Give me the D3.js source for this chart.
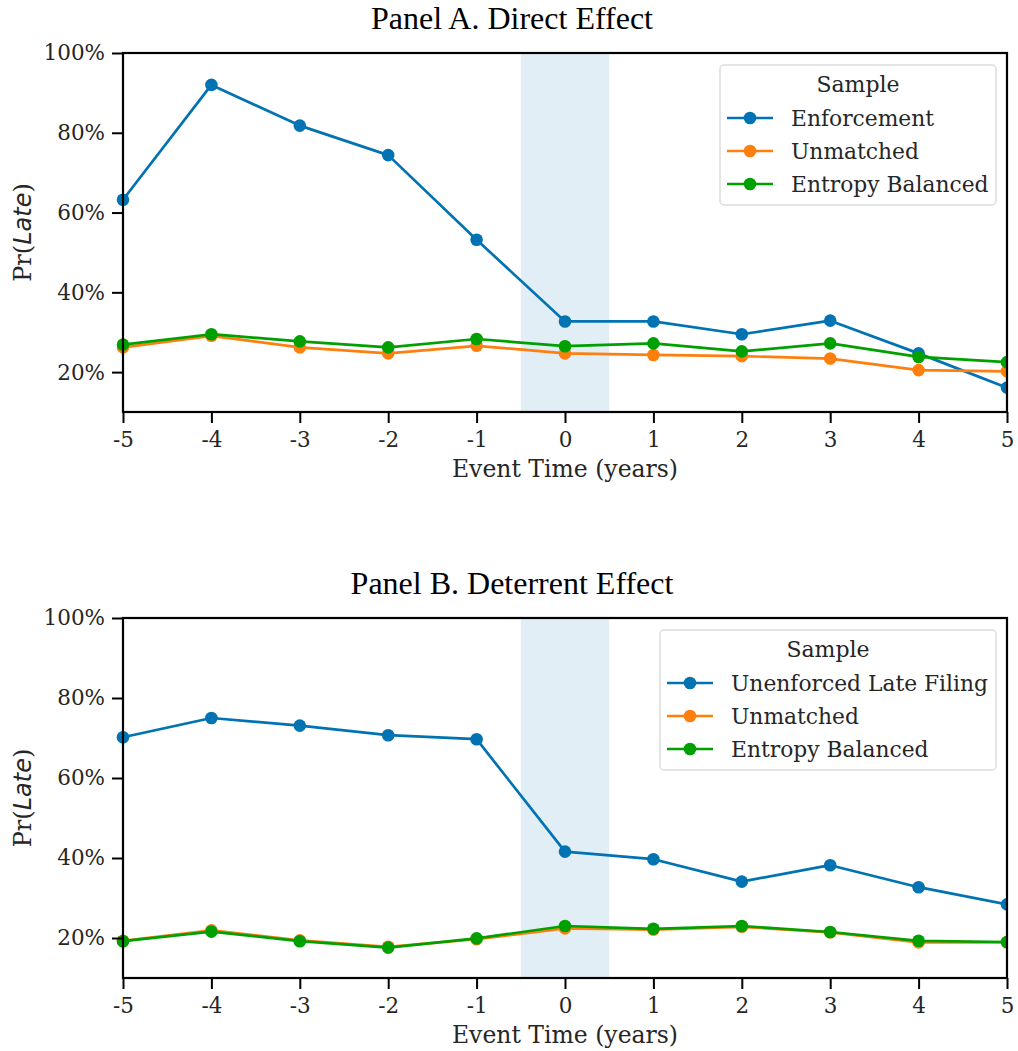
<!DOCTYPE html>
<html><head><meta charset="utf-8">
<script src="https://cdn.jsdelivr.net/npm/d3@7"></script>
<style>body{margin:0;background:#fff}</style>
</head><body>
<svg id="chart" width="1018" height="1051"></svg>
<script>
const eventTimes = [-5,-4,-3,-2,-1,0,1,2,3,4,5];
const yTicks = [0.2,0.4,0.6,0.8,1.0];

const panelATitle = "Panel A. Direct Effect";
const panelASeriesNames = ["Enforcement","Unmatched","Entropy Balanced"];
const panelAEnforcement = [0.632,0.920,0.818,0.744,0.532,0.327,0.327,0.295,0.329,0.247,0.161];
const panelAUnmatched   = [0.262,0.291,0.262,0.247,0.266,0.247,0.243,0.240,0.234,0.205,0.202];
const panelAEntropy     = [0.269,0.295,0.277,0.262,0.283,0.265,0.272,0.252,0.272,0.238,0.225];

const panelBTitle = "Panel B. Deterrent Effect";
const panelBSeriesNames = ["Unenforced Late Filing","Unmatched","Entropy Balanced"];
const panelBUnenforced = [0.702,0.750,0.731,0.707,0.697,0.416,0.397,0.341,0.382,0.327,0.284];
const panelBUnmatched  = [0.193,0.219,0.194,0.178,0.197,0.224,0.221,0.228,0.214,0.189,0.189];
const panelBEntropy    = [0.192,0.216,0.192,0.176,0.199,0.230,0.223,0.230,0.215,0.193,0.190];

const colors = ["#0173b2","#ff7f0e","#00a000"];
const svg = d3.select("#chart");
const textColor = "#262626";

function drawPanel(opt){
  const g = svg.append("g");
  const x = d3.scaleLinear().domain([-5,5]).range([opt.left, opt.right]);
  const y = d3.scaleLinear().domain([0.1,1.0]).range([opt.bottom, opt.top]);
  // title
  g.append("text").attr("x",(opt.left+opt.right)/2 - 53).attr("y",opt.titleY)
    .attr("text-anchor","middle").attr("font-family","'Liberation Serif','Times New Roman',serif")
    .attr("font-size",32).attr("fill","#000").text(opt.title);
  // shaded region
  g.append("rect").attr("x",x(-0.5)).attr("y",opt.top).attr("width",x(0.5)-x(-0.5))
    .attr("height",opt.bottom-opt.top).attr("fill","#e1eef6");
  // lines
  const line = d3.line().x((d,i)=>x(eventTimes[i])).y(d=>y(d));
  const clipId = "clip"+opt.id;
  svg.append("defs").append("clipPath").attr("id",clipId).append("rect")
    .attr("x",opt.left-8).attr("y",opt.top).attr("width",opt.right-opt.left+8).attr("height",opt.bottom-opt.top);
  const plot = g.append("g").attr("clip-path",`url(#${clipId})`);
  opt.series.forEach((s,k)=>{
    plot.append("path").datum(s).attr("d",line).attr("fill","none")
      .attr("stroke",colors[k]).attr("stroke-width",2.7).attr("stroke-linejoin","round");
    plot.selectAll(null).data(s).enter().append("circle")
      .attr("cx",(d,i)=>x(eventTimes[i])).attr("cy",d=>y(d)).attr("r",6.3).attr("fill",colors[k]);
  });
  // frame
  g.append("rect").attr("x",opt.left).attr("y",opt.top).attr("width",opt.right-opt.left)
    .attr("height",opt.bottom-opt.top).attr("fill","none").attr("stroke","#000").attr("stroke-width",2.2);
  // axes
  const xAxis = d3.axisBottom(x).tickValues(eventTimes).tickSize(11).tickPadding(4).tickFormat(d=>String(d));
  const xg = g.append("g").attr("transform",`translate(0,${opt.bottom})`).call(xAxis);
  const yAxis = d3.axisLeft(y).tickValues(yTicks).tickSize(11).tickPadding(7).tickFormat(d=>Math.round(d*100)+"%");
  const yg = g.append("g").attr("transform",`translate(${opt.left},0)`).call(yAxis);
  [xg,yg].forEach(a=>{
    a.select(".domain").remove();
    a.selectAll(".tick line").attr("stroke","#000").attr("stroke-width",2);
    a.selectAll(".tick text").attr("font-family","'DejaVu Serif',serif").attr("font-size",21.5).attr("fill",textColor);
  });
  xg.selectAll(".tick text").attr("dy","0.95em");
  // x label
  g.append("text").attr("x",(opt.left+opt.right)/2).attr("y",opt.bottom+65).attr("text-anchor","middle")
    .attr("font-family","'DejaVu Serif',serif").attr("font-size",23.5).attr("fill",textColor).text("Event Time (years)");
  // y label
  const yl = g.append("text").attr("transform",`translate(31,${(opt.top+opt.bottom)/2}) rotate(-90)`)
    .attr("text-anchor","middle").attr("font-family","'DejaVu Serif',serif").attr("font-size",24).attr("fill",textColor);
  yl.append("tspan").text("Pr(");
  yl.append("tspan").attr("font-family","'DejaVu Sans',sans-serif").attr("font-style","italic").text("Late");
  yl.append("tspan").text(")");
  // legend
  const L = opt.legend;
  g.append("rect").attr("x",L.x).attr("y",L.y).attr("width",L.w).attr("height",L.h).attr("rx",4)
    .attr("fill","#fff").attr("fill-opacity",0.85).attr("stroke","#dcdcdc").attr("stroke-width",1.5);
  g.append("text").attr("x",L.x+L.w/2).attr("y",L.y+27).attr("text-anchor","middle")
    .attr("font-family","'DejaVu Serif',serif").attr("font-size",22).attr("fill",textColor).text("Sample");
  opt.names.forEach((n,k)=>{
    const yy = L.y+53+k*33;
    g.append("line").attr("x1",L.x+7).attr("x2",L.x+53).attr("y1",yy).attr("y2",yy)
      .attr("stroke",colors[k]).attr("stroke-width",2.7);
    g.append("circle").attr("cx",L.x+30).attr("cy",yy).attr("r",6.3).attr("fill",colors[k]);
    g.append("text").attr("x",L.x+71).attr("y",yy+8).attr("font-family","'DejaVu Serif',serif")
      .attr("font-size",21.8).attr("fill",textColor).text(n);
  });
}

drawPanel({id:"A", title:panelATitle, titleY:29, left:123, right:1007, top:53, bottom:412,
  series:[panelAEnforcement,panelAUnmatched,panelAEntropy], names:panelASeriesNames,
  legend:{x:720,y:65,w:276,h:140}});
drawPanel({id:"B", title:panelBTitle, titleY:594, left:123, right:1007, top:618, bottom:978,
  series:[panelBUnenforced,panelBUnmatched,panelBEntropy], names:panelBSeriesNames,
  legend:{x:660,y:630,w:336,h:140}});
</script>
</body></html>
